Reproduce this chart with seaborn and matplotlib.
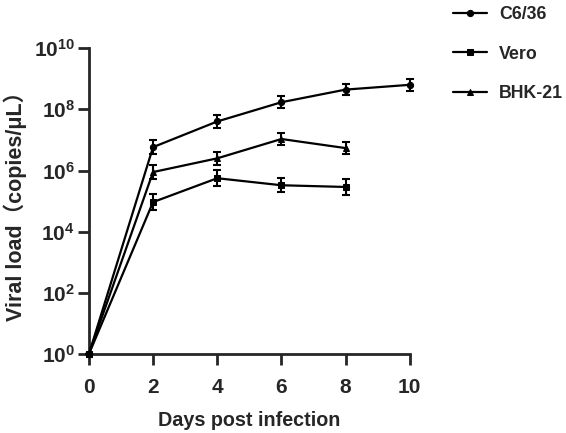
import numpy as np
import pandas as pd
import matplotlib
matplotlib.use('Agg')
import matplotlib.pyplot as plt
import seaborn as sns
from matplotlib.ticker import FuncFormatter

# values (viral load, copies/uL), error in log10 decades
days_c636 = [0, 2, 4, 6, 8, 10]
load_c636 = [1, 5.8e6, 4.0e7, 1.7e8, 4.4e8, 6.3e8]
err_c636 = [0, 0.23, 0.22, 0.20, 0.19, 0.19]

days_vero = [0, 2, 4, 6, 8]
load_vero = [1, 9.3e4, 5.6e5, 3.3e5, 2.9e5]
err_vero = [0, 0.26, 0.26, 0.23, 0.26]

days_bhk = [0, 2, 4, 6, 8]
load_bhk = [1, 8.9e5, 2.5e6, 1.07e7, 5.4e6]
err_bhk = [0, 0.22, 0.22, 0.20, 0.20]

series = ['C6/36', 'Vero', 'BHK-21']
markers = {'C6/36': 'o', 'Vero': 's', 'BHK-21': '^'}
x_ticks = [0, 2, 4, 6, 8, 10]
y_ticks = [1e0, 1e2, 1e4, 1e6, 1e8, 1e10]

sns.set_style('ticks')
plt.rcParams['font.family'] = ['Liberation Sans', 'Noto Sans CJK SC', 'DejaVu Sans']
plt.rcParams['font.weight'] = 'bold'
plt.rcParams['mathtext.fontset'] = 'custom'
plt.rcParams['mathtext.rm'] = 'Liberation Sans:bold'
plt.rcParams['mathtext.bf'] = 'Liberation Sans:bold'
plt.rcParams['mathtext.it'] = 'Liberation Sans:bold'

df = pd.concat([
    pd.DataFrame({'day': days_c636, 'load': load_c636, 'err': err_c636, 'cell': 'C6/36'}),
    pd.DataFrame({'day': days_vero, 'load': load_vero, 'err': err_vero, 'cell': 'Vero'}),
    pd.DataFrame({'day': days_bhk, 'load': load_bhk, 'err': err_bhk, 'cell': 'BHK-21'}),
], ignore_index=True)

fig = plt.figure(figsize=(5.66, 4.33), dpi=100)
ax = fig.add_axes([0.157, 0.182, 0.567, 0.707])

sns.lineplot(data=df, x='day', y='load', style='cell', style_order=series,
             markers=markers, dashes=False, color='black', linewidth=1.6,
             markersize=4.5, markeredgecolor='black', ax=ax, legend=True,
             clip_on=False, zorder=3)

# error bars (symmetric on the log scale)
for name in series:
    sub = df[df['cell'] == name]
    lo = sub['load'] - sub['load'] / 10 ** sub['err']
    hi = sub['load'] * 10 ** sub['err'] - sub['load']
    ax.errorbar(sub['day'], sub['load'], yerr=[lo, hi], fmt='none',
                ecolor='black', elinewidth=1.5, capsize=3, capthick=1.5,
                clip_on=False, zorder=3)

ax.set_yscale('log')
ax.set_xlim(0, 10)
ax.set_ylim(1e0, 1e10)
ax.set_xticks(x_ticks)
ax.set_yticks(y_ticks)
ax.minorticks_off()
ax.yaxis.set_major_formatter(FuncFormatter(lambda v, p: r'$\mathbf{10^{%d}}$' % int(round(np.log10(v)))))
ax.tick_params(axis='both', which='major', length=8, width=2, labelsize=15)
ax.tick_params(axis='x', pad=9)
ax.tick_params(axis='y', pad=2)
for lab in ax.get_xticklabels():
    lab.set_fontweight('bold')

sns.despine(ax=ax)
for s in ['left', 'bottom']:
    ax.spines[s].set_linewidth(2)

ax.set_xlabel('Days post infection', fontsize=14.2, fontweight='bold', labelpad=10)
ax.set_ylabel('Viral load（copies/μL）', fontsize=15.5, fontweight='bold', labelpad=5)

handles, labels = ax.get_legend_handles_labels()
ax.legend(handles, labels, loc='upper left', bbox_to_anchor=(0.80, 0.985),
          bbox_transform=fig.transFigure, frameon=False, borderpad=0,
          borderaxespad=0, handlelength=1.9, handletextpad=0.7,
          labelspacing=1.25, prop={'size': 12.8, 'weight': 'bold'})

fig.savefig('out.png', dpi=100)
